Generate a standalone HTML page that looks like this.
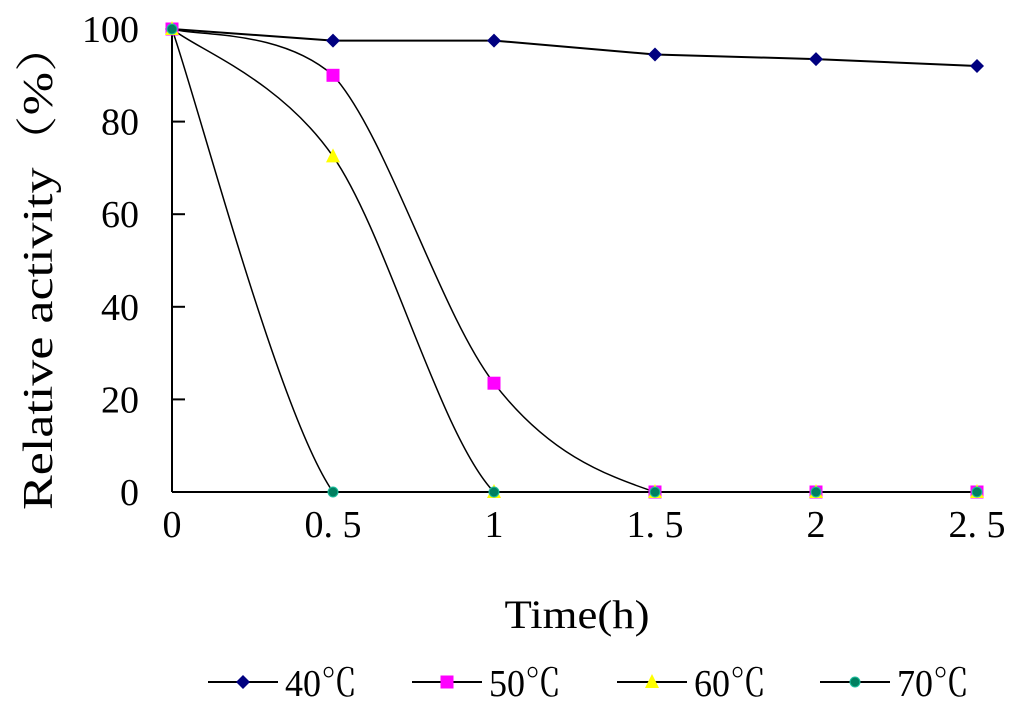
<!DOCTYPE html>
<html><head><meta charset="utf-8"><style>
html,body{margin:0;padding:0;background:#fff;}
svg{display:block;font-family:"Liberation Serif","Noto Serif CJK SC",serif;}
</style></head><body>
<svg id="chart" width="1024" height="707" viewBox="0 0 1024 707" xmlns="http://www.w3.org/2000/svg">
<g id="axes"></g>
<g id="series"></g>
<g id="legend"></g>
<text x="577" y="628" font-size="40" text-anchor="middle" textLength="145" lengthAdjust="spacingAndGlyphs">Time(h)</text>
<text transform="translate(52,265) rotate(-90)" font-size="42" text-anchor="middle" textLength="490" lengthAdjust="spacingAndGlyphs">Relative activity（%）</text>
</svg>
<script>
const times = [0, 0.5, 1, 1.5, 2, 2.5];
const xTickLabels = ["0", "0. 5", "1", "1. 5", "2", "2. 5"];
const yTicks = [0, 20, 40, 60, 80, 100];
const seriesNames = ["40℃", "50℃", "60℃", "70℃"];
const s40 = [100, 97.5, 97.5, 94.5, 93.5, 92];
const s50 = [100, 90, 23.5, 0, 0, 0];
const s60 = [100, 72.5, 0, 0, 0, 0];
const s70 = [100, 0, 0, 0, 0, 0];

const NS = "http://www.w3.org/2000/svg";
const x0 = 172, x1 = 977, y0 = 492, y1 = 29;
const xScale = t => x0 + (t - 0) / 2.5 * (x1 - x0);
const yScale = v => y0 - v / 100 * (y0 - y1);
function mk(tag, attrs, parent) {
  const e = document.createElementNS(NS, tag);
  for (const k in attrs) e.setAttribute(k, attrs[k]);
  parent.appendChild(e);
  return e;
}
const axes = document.getElementById('axes');
let yl = mk('line', {x1: x0, y1: y1, x2: x0, y2: y0, stroke: '#000', 'stroke-width': 2}, axes);


let xl = mk('line', {x1: x0, y1: y0, x2: x1, y2: y0, stroke: '#000', 'stroke-width': 2}, axes);


yTicks.forEach(v => {
  const y = yScale(v);
  if (v > 0 && v < 100) {
    const tk = mk('line', {x1: x0, y1: y, x2: x0 + 13, y2: y, stroke: '#000', 'stroke-width': 2}, axes);
    
    
  }
  const t = mk('text', {x: 139, y: y + 13, 'font-size': 38, 'text-anchor': 'end'}, axes);
  t.textContent = String(v);
  
  
});
times.forEach((tm, i) => {
  const t = mk('text', {x: xScale(tm), y: 537, 'font-size': 38, 'text-anchor': 'middle'}, axes);
  t.textContent = xTickLabels[i];
  
  
});

function clamp(v, a, b) { const lo = Math.min(a, b), hi = Math.max(a, b); return Math.max(lo, Math.min(hi, v)); }
function smoothPath(pts) {
  let d = `M${pts[0][0]},${pts[0][1]}`;
  for (let i = 0; i < pts.length - 1; i++) {
    const p0 = pts[Math.max(0, i - 1)], p1 = pts[i], p2 = pts[i + 1], p3 = pts[Math.min(pts.length - 1, i + 2)];
    const c1x = p1[0] + (p2[0] - p0[0]) / 6, c1y = clamp(p1[1] + (p2[1] - p0[1]) / 6, p1[1], p2[1]);
    const c2x = p2[0] - (p3[0] - p1[0]) / 6, c2y = clamp(p2[1] - (p3[1] - p1[1]) / 6, p1[1], p2[1]);
    d += ` C${c1x},${c1y} ${c2x},${c2y} ${p2[0]},${p2[1]}`;
  }
  return d;
}
const colors = ['#000080', '#ff00ff', '#ffff00', '#008060'];
const allSeries = [s40, s50, s60, s70];
function marker(kind, cx, cy, parent, size) {
  const s = size || 1;
  let m;
  if (kind === 0) m = mk('polygon', {points: `${cx},${cy-7*s} ${cx+7*s},${cy} ${cx},${cy+7*s} ${cx-7*s},${cy}`, fill: colors[0]}, parent);
  else if (kind === 1) m = mk('rect', {x: cx - 6.5*s, y: cy - 6.5*s, width: 13*s, height: 13*s, fill: colors[1]}, parent);
  else if (kind === 2) m = mk('polygon', {points: `${cx},${cy-8*s} ${cx+7*s},${cy+6*s} ${cx-7*s},${cy+6*s}`, fill: colors[2]}, parent);
  else m = mk('circle', {cx: cx, cy: cy, r: 5*s, fill: colors[3], stroke: '#20c0a0', 'stroke-width': 1}, parent);
  return m;
}
const sg = document.getElementById('series');
allSeries.forEach((vals, si) => {
  const pts = vals.map((v, i) => [xScale(times[i]), yScale(v)]);
  const p = mk('path', {d: si === 0 ? 'M' + pts.map(q => q.join(',')).join(' L') : smoothPath(pts), fill: 'none', stroke: '#000', 'stroke-width': si === 0 ? 2 : 1.5}, sg);
  
  
});
allSeries.forEach((vals, si) => {
  vals.forEach((v, i) => {
    const m = marker(si, xScale(times[i]), yScale(v), sg);
    
    
  });
});
const lg = document.getElementById('legend');
const lx = [208, 412, 617, 820];
seriesNames.forEach((n, i) => {
  const g = mk('g', {}, lg);
  
  
  mk('line', {x1: lx[i], y1: 682, x2: lx[i] + 70, y2: 682, stroke: '#000', 'stroke-width': 2}, g);
  marker(i, lx[i] + 35, 682, g);
  const t = mk('text', {x: lx[i] + 77, y: 696, 'font-size': 38, textLength: 72, lengthAdjust: 'spacingAndGlyphs'}, g);
  t.textContent = n;
});
</script>
</body></html>
